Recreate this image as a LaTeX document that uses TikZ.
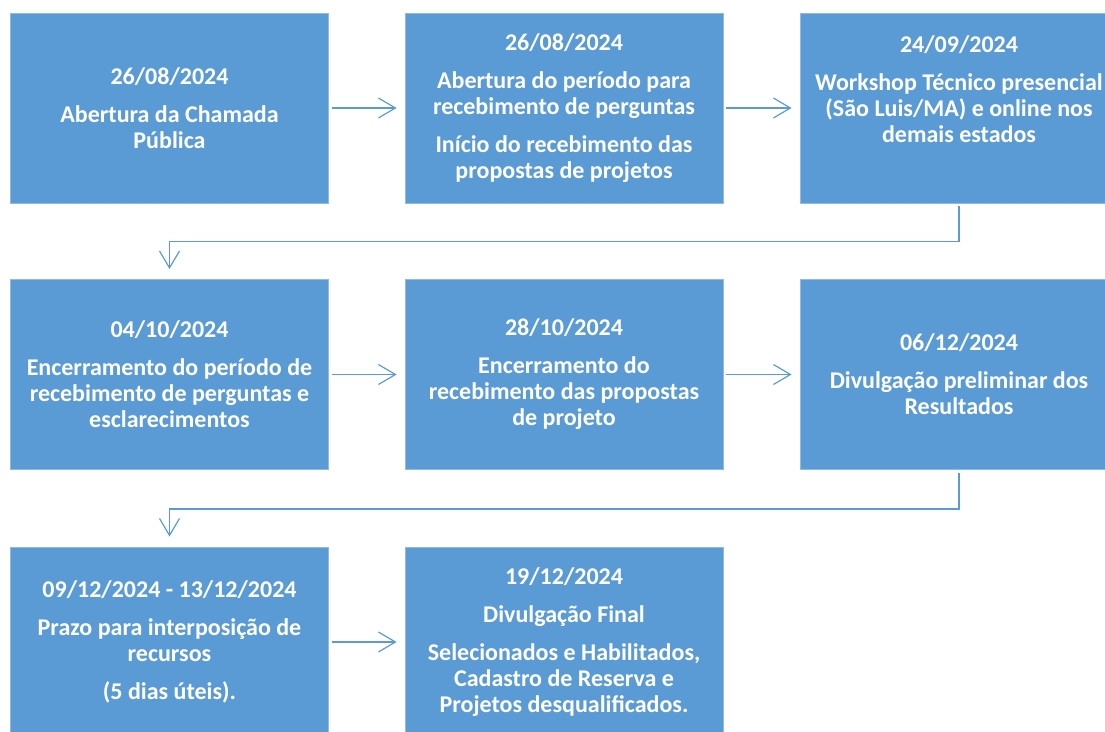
\documentclass[tikz,border=0pt]{standalone}
\usepackage{fontspec}
\setmainfont{Carlito}
\usetikzlibrary{arrows.meta}
\definecolor{boxblue}{HTML}{5B9BD5}
\definecolor{edgeblue}{HTML}{8EBBE4}
\tikzset{
  stepbox/.style={rectangle, fill=boxblue, draw=edgeblue, line width=0.8pt,
    minimum width=318pt, minimum height=190pt, inner sep=0pt,
    text=white, align=center,
    font=\fontsize{24}{26}\selectfont\bfseries},
  flow/.style={draw=boxblue, line width=1.2pt,
    -{Straight Barb[length=17pt,width=20pt,line width=1.2pt]}},
}
\begin{document}
\begin{tikzpicture}[x=1pt,y=-1pt]
\useasboundingbox (0,0) rectangle (1105,731);
\clip (0,0) rectangle (1105,731);
% row 1
\node[stepbox] (b1) at (169.5,108) {26/08/2024\\[12pt]Abertura da Chamada\\Pública};
\node[stepbox] (b2) at (564,108) {26/08/2024\\[12pt]Abertura do período para\\recebimento de perguntas\\[12pt]Início do recebimento das\\propostas de projetos};
\node[stepbox] (b3) at (959,108) {24/09/2024\\[12pt]Workshop Técnico presencial\\(São Luis/MA) e online nos\\demais estados\\[12pt]\mbox{}};
% row 2
\node[stepbox] (b4) at (169.5,374.5) {04/10/2024\\[12pt]Encerramento do período de\\recebimento de perguntas e\\esclarecimentos};
\node[stepbox] (b5) at (564,374.5) {28/10/2024\\[12pt]Encerramento do\\recebimento das propostas\\de projeto};
\node[stepbox] (b6) at (959,374.5) {06/12/2024\\[12pt]Divulgação preliminar dos\\Resultados};
% row 3
\node[stepbox] (b7) at (169.5,642) {09/12/2024 - 13/12/2024\\[12pt]Prazo para interposição de\\recursos\\[12pt](5 dias úteis).};
\node[stepbox] (b8) at (564,642) {19/12/2024\\[12pt]Divulgação Final\\[12pt]Selecionados e Habilitados,\\Cadastro de Reserva e\\Projetos desqualificados.};
% connectors
\draw[flow, shorten <=3pt, shorten >=8pt] (b1.east) -- (b2.west);
\draw[flow, shorten <=3pt, shorten >=8pt] (b2.east) -- (b3.west);
\draw[flow, shorten <=3pt, shorten >=10pt] (b3.south) -- ++(0,38) -| (b4.north);
\draw[flow, shorten <=3pt, shorten >=8pt] (b4.east) -- (b5.west);
\draw[flow, shorten <=3pt, shorten >=8pt] (b5.east) -- (b6.west);
\draw[flow, shorten <=3pt, shorten >=10pt] (b6.south) -- ++(0,39) -| (b7.north);
\draw[flow, shorten <=3pt, shorten >=8pt] (b7.east) -- (b8.west);
\end{tikzpicture}
\end{document}
